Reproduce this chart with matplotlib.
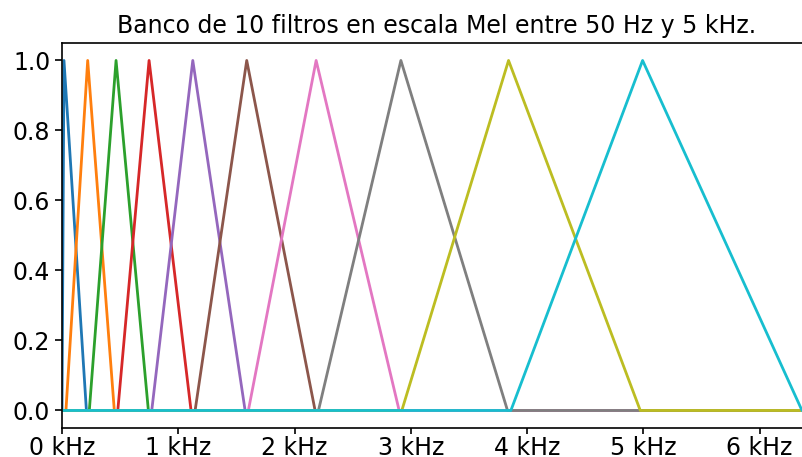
import matplotlib
matplotlib.use('Agg')
import matplotlib.pyplot as plt
from matplotlib.ticker import FuncFormatter, MultipleLocator

# Triangular Mel filters: start, peak and end frequencies (kHz)
f_lo = [0.0, 0.034, 0.235, 0.48, 0.772, 1.145, 1.603, 2.206, 2.923, 3.861]
f_peak = [0.017, 0.221, 0.465, 0.749, 1.125, 1.589, 2.186, 2.915, 3.841, 4.994]
f_hi = [0.21, 0.45, 0.743, 1.11, 1.575, 2.177, 2.90, 3.832, 4.974, 6.365]
f_max = 6.6

plt.rcParams['font.size'] = 17
plt.rcParams['axes.linewidth'] = 1.2
plt.rcParams['xtick.major.size'] = 4.5
plt.rcParams['ytick.major.size'] = 5
plt.rcParams['xtick.major.width'] = 1.2
plt.rcParams['ytick.major.width'] = 1.2

fig = plt.figure(figsize=(8.02, 4.57), dpi=100)
ax = fig.add_axes([0.0773, 0.0635, 0.935, 0.8425])

for lo, pk, hi in zip(f_lo, f_peak, f_hi):
    ax.plot([0, lo, pk, hi, f_max], [0, 0, 1, 0, 0], linewidth=2.0)

ax.set_xlim(0, 6.45)
ax.set_ylim(-0.05, 1.05)
ax.xaxis.set_major_locator(MultipleLocator(1))
ax.xaxis.set_major_formatter(FuncFormatter(lambda v, p: '%d kHz' % round(v)))
ax.tick_params(axis='x', pad=1.5)
ax.set_title('Banco de 10 filtros en escala Mel entre 50 Hz y 5 kHz.',
             fontsize=17, pad=7)

fig.savefig('out.png', dpi=100)
